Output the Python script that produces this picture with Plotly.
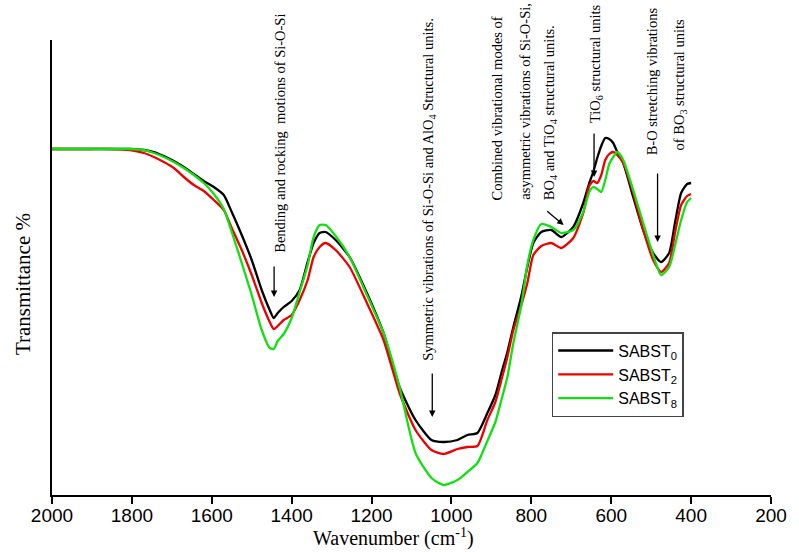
import plotly.graph_objects as go

# FTIR spectra of the SABST glass series
wavenumber = [2000, 1930, 1855, 1805, 1770, 1745, 1720, 1695, 1670, 1645,
              1620, 1595, 1570, 1550, 1525, 1500, 1475, 1455, 1445, 1435,
              1420, 1400, 1380, 1360, 1345, 1330, 1315, 1290, 1255, 1215,
              1170, 1130, 1090, 1050, 1020, 985, 960, 935, 910, 890,
              875, 860, 845, 825, 810, 795, 775, 750, 725, 695,
              670, 655, 645, 635, 625, 615, 605, 595, 585, 570,
              545, 520, 495, 475, 455, 440, 425, 410, 400]

sabst0 = [69.2, 69.2, 69.2, 69.2, 69.0, 68.6, 67.8, 66.8, 65.6, 64.2,
          62.8, 61.6, 60.0, 56.6, 52.0, 47.0, 41.0, 37.0, 35.4, 36.4,
          37.6, 38.8, 41.0, 46.6, 50.4, 52.4, 52.6, 51.0, 47.6, 41.0,
          32.4, 21.6, 15.0, 11.0, 10.6, 11.0, 12.0, 12.4, 16.4, 20.0,
          24.4, 28.6, 33.6, 39.8, 45.6, 50.4, 52.6, 53.0, 51.6, 53.6,
          58.4, 62.4, 64.6, 67.4, 69.8, 71.4, 71.2, 70.4, 68.6, 66.4,
          59.6, 53.0, 48.4, 46.6, 48.4, 54.6, 60.4, 62.2, 62.4]

sabst2 = [69.2, 69.2, 69.2, 69.0, 68.4, 67.6, 66.6, 65.4, 63.6, 62.0,
          60.8, 59.0, 57.0, 53.4, 49.0, 44.0, 38.4, 34.6, 33.2, 33.8,
          35.0, 36.0, 39.0, 43.0, 47.6, 49.6, 50.4, 49.0, 45.6, 39.0,
          31.0, 20.4, 13.0, 9.0, 8.2, 9.2, 9.6, 9.8, 15.0, 18.6,
          23.0, 27.6, 33.0, 38.0, 42.4, 48.0, 49.8, 50.4, 49.4, 51.4,
          56.4, 61.8, 62.8, 62.4, 64.0, 67.0, 68.2, 68.6, 68.0, 66.4,
          60.4, 53.0, 47.0, 44.6, 46.4, 52.6, 58.0, 59.8, 60.2]

sabst8 = [69.2, 69.2, 69.2, 69.2, 69.0, 68.4, 67.6, 66.6, 65.4, 64.0,
          62.4, 60.2, 57.2, 52.6, 46.4, 40.0, 33.0, 29.4, 29.2, 30.8,
          32.2, 35.4, 40.6, 46.0, 51.6, 54.0, 54.0, 51.8, 47.6, 40.6,
          32.4, 21.6, 8.4, 3.4, 2.0, 3.0, 4.6, 6.4, 10.8, 14.6,
          19.0, 23.6, 30.4, 38.0, 46.0, 51.0, 54.2, 53.6, 52.4, 53.0,
          56.6, 60.6, 61.6, 61.2, 60.6, 63.0, 66.2, 67.6, 68.6, 67.0,
          61.0, 54.4, 48.0, 44.0, 45.6, 50.0, 55.0, 58.6, 59.4]

series_names = ["SABST<sub>0</sub>", "SABST<sub>2</sub>", "SABST<sub>8</sub>"]
series_colors = ["#000000", "#ee0000", "#11e011"]
x_ticks = [2000, 1800, 1600, 1400, 1200, 1000, 800, 600, 400, 200]

fig = go.Figure()
for name, vals, color in zip(series_names, [sabst0, sabst2, sabst8], series_colors):
    fig.add_trace(go.Scatter(
        x=wavenumber, y=vals, mode="lines", name=name,
        line=dict(color=color, width=2.3, shape="spline", smoothing=0.6),
    ))

serif = "Liberation Serif, Times New Roman, serif"
sans = "Liberation Sans, Arial, sans-serif"

# Band assignments (vertical labels) and their arrows
labels = [
    (1431, 48.0, "Bending and rocking  motions of Si-O-Si"),
    (1058, 26.4, "Symmetric vibrations of Si-O-Si and AlO<sub>4</sub> Structural units."),
    (885, 58.6, "Combined vibrational modes of"),
    (818, 58.6, "asymmetric vibrations of Si-O-Si,"),
    (754, 58.6, "BO<sub>4</sub> and TiO<sub>4</sub> structural units."),
    (638, 74.0, "TiO<sub>6</sub> structural units"),
    (497, 67.6, "B-O stretching vibrations"),
    (428, 68.6, "of BO<sub>3</sub> structural units"),
]
annotations = []
for lx, ly, txt in labels:
    annotations.append(dict(
        x=lx, y=ly, xref="x", yref="y", text=txt, showarrow=False,
        textangle=-90, xanchor="center", yanchor="bottom",
        font=dict(family=serif, size=14.5, color="black"),
    ))

arrows = [(1444, 39.6, 0, -32), (1048, 15.6, 0, -45), (719, 54.0, -18, -15),
          (643, 63.6, 0, -45), (484, 50.6, 0, -70)]
for axx, ayy, dx, dy in arrows:
    annotations.append(dict(
        x=axx, y=ayy, xref="x", yref="y", text="", showarrow=True,
        ax=dx, ay=dy, arrowhead=2, arrowsize=1, arrowwidth=1.3,
        arrowcolor="black", standoff=0,
    ))

# Axis titles
annotations.append(dict(
    x=0.475, y=-0.1245, xref="paper", yref="paper", showarrow=False,
    text="Wavenumber (cm<sup>-1</sup>)", xanchor="center", yanchor="bottom",
    font=dict(family=serif, size=20, color="black"),
))
annotations.append(dict(
    x=-0.04, y=0.464, xref="paper", yref="paper", showarrow=False,
    text="Transmittance %", textangle=-90, xanchor="center", yanchor="middle",
    font=dict(family=serif, size=21, color="black"),
))

fig.update_layout(
    width=799, height=552,
    margin=dict(l=52, r=19, t=40, b=57),
    paper_bgcolor="white", plot_bgcolor="white",
    showlegend=True,
    legend=dict(
        x=0.695, y=0.358, xanchor="left", yanchor="top",
        bgcolor="white", bordercolor="#444", borderwidth=1.5,
        font=dict(family=sans, size=16, color="black"),
        itemwidth=55, tracegroupgap=0,
    ),
    annotations=annotations,
    xaxis=dict(
        range=[2000, 200], tickvals=x_ticks, ticktext=[str(t) for t in x_ticks],
        showline=True, linecolor="black", linewidth=1.5, mirror=False,
        ticks="outside", ticklen=7, tickwidth=1.5, tickcolor="black",
        ticklabelstandoff=-5,
        showgrid=False, zeroline=False,
        tickfont=dict(family=sans, size=19, color="black"),
    ),
    yaxis=dict(
        range=[0, 91], showline=True, linecolor="black", linewidth=1.5,
        showticklabels=False, ticks="", showgrid=False, zeroline=False,
    ),
)

fig.write_html("out.html")
